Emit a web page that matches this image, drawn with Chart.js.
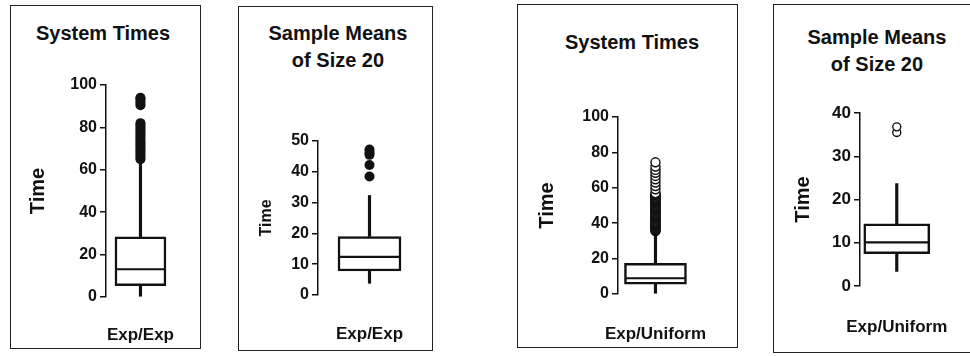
<!DOCTYPE html>
<html>
<head>
<meta charset="utf-8">
<script src="https://cdn.jsdelivr.net/npm/chart.js@4.4.1/dist/chart.umd.min.js"></script>
<style>
  body { margin: 0; width: 970px; height: 356px; overflow: hidden; background: #fff; position: relative; font-family: "Liberation Sans", Arial, sans-serif; }
  .panel { position: absolute; border: 1.5px solid #222; box-sizing: border-box; }
  canvas { position: absolute; }
  .title { position: absolute; width: 200px; font-weight: bold; font-size: 20px; line-height: 27px; text-align: center; color: #111; white-space: nowrap; }
</style>
</head>
<body>
<div class="panel" style="left:10px;top:5px;width:191px;height:344px"></div>
<div class="panel" style="left:238px;top:6px;width:195px;height:345px"></div>
<div class="panel" style="left:517px;top:4px;width:221px;height:344px"></div>
<div class="panel" style="left:773px;top:4px;width:200px;height:349px"></div>

<div class="title" style="left:3px;top:19.5px">System Times</div>
<div class="title" style="left:238px;top:19.5px">Sample Means<br>of Size 20</div>
<div class="title" style="left:532px;top:28.5px">System Times</div>
<div class="title" style="left:777px;top:23.5px">Sample Means<br>of Size 20</div>

<canvas id="c1" width="191" height="344" style="left:10px;top:5px"></canvas>
<canvas id="c2" width="195" height="345" style="left:238px;top:6px"></canvas>
<canvas id="c3" width="221" height="344" style="left:517px;top:4px"></canvas>
<canvas id="c4" width="200" height="349" style="left:773px;top:4px"></canvas>

<script>
// datos: [Q1, mediana, Q3], bigotes [min, max], atipicos
const labels1 = ['Exp/Exp'];
const box1 = [5.4, 13.1, 28.4];
const whisk1 = [0, 63];
const out1 = [65, 66, 67, 68, 69, 70, 71, 72, 73, 74, 75, 76, 77, 78, 79, 80, 81, 82, 90.5, 91.5, 92.5, 93.5, 94];
const ticks1 = [0, 20, 40, 60, 80, 100];

const labels2 = ['Exp/Exp'];
const box2 = [7.8, 12.4, 19.0];
const whisk2 = [3.8, 32.3];
const out2 = [38.5, 42.2, 45.5, 46.3, 47.2];
const ticks2 = [0, 10, 20, 30, 40, 50];

const labels3 = ['Exp/Uniform'];
const box3 = [5.5, 8.9, 17.3];
const whisk3 = [0, 35];
const out3 = [35.5, 36, 36.5, 37, 37.5, 38, 38.5, 39, 39.5, 40, 40.5, 41, 41.5, 42, 42.5, 43, 43.5, 44, 44.5, 45,
  45.5, 46, 46.5, 47, 47.5, 48, 48.5, 49, 49.5, 50, 50.5, 51, 51.5, 52, 52.5, 53, 53.5, 54, 54.5, 55, 55.5, 56, 56.5, 57,
  59.2, 61, 63, 64.8, 66.7, 68.5, 70.1, 72, 74.4];
const ticks3 = [0, 20, 40, 60, 80, 100];

const labels4 = ['Exp/Uniform'];
const box4 = [7.5, 10.1, 14.4];
const whisk4 = [3.4, 23.7];
const out4 = [35.5, 36.8];
const ticks4 = [0, 10, 20, 30, 40];

const FONT = '"Liberation Sans", Arial, sans-serif';
const INK = '#111';

// linea de la mediana dentro de la caja
const medianLine = {
  id: 'medianLine',
  afterDatasetsDraw(chart, args, opts) {
    const el = chart.getDatasetMeta(0).data[0];
    const y = chart.scales.y.getPixelForValue(opts.value);
    const ctx = chart.ctx;
    ctx.save();
    ctx.strokeStyle = INK;
    ctx.lineWidth = 2.2;
    ctx.beginPath();
    ctx.moveTo(el.x - el.width / 2 + 1, y);
    ctx.lineTo(el.x + el.width / 2 - 1, y);
    ctx.stroke();
    ctx.restore();
  }
};

function boxChart(id, labels, box, whisk, out, ticks, s) {
  const outPts = out.map(v => ({ x: labels[0], y: v }));
  return new Chart(document.getElementById(id), {
    type: 'bar',
    data: {
      labels: labels,
      datasets: [
        { data: [[box[0], box[2]]], backgroundColor: '#fff', borderColor: INK, borderWidth: 2.5,
          borderSkipped: false, barThickness: s.boxW, grouped: false },
        { data: [[whisk[0], box[0]]], backgroundColor: INK, borderWidth: 0, barThickness: 2.5, grouped: false },
        { data: [[box[2], whisk[1]]], backgroundColor: INK, borderWidth: 0, barThickness: 2.5, grouped: false },
        { type: 'line', data: outPts, showLine: false, clip: false,
          pointRadius: s.r, pointBorderWidth: s.open ? 1.4 : 0,
          pointBackgroundColor: s.open ? '#fff' : INK, pointBorderColor: INK }
      ]
    },
    options: {
      responsive: false,
      animation: false,
      devicePixelRatio: 1,
      layout: { padding: { left: 0, top: s.padTop, right: s.padRight, bottom: 0 } },
      plugins: {
        legend: { display: false },
        tooltip: { enabled: false },
        medianLine: { value: box[1] }
      },
      scales: {
        x: {
          grid: { display: false },
          border: { display: false },
          ticks: { color: INK, padding: s.xPad, font: { family: FONT, size: 17, weight: 'bold' } },
          afterFit(sc) { sc.height = s.xh; }
        },
        y: {
          min: ticks[0],
          max: ticks[ticks.length - 1],
          afterBuildTicks(sc) { sc.ticks = ticks.map(v => ({ value: v })); },
          grid: { display: true, drawOnChartArea: false, drawTicks: true, tickLength: 6, color: INK, lineWidth: 1.5 },
          border: { display: true, color: INK, width: 1.5 },
          ticks: { color: INK, padding: 3, font: { family: FONT, size: s.tickSize, weight: 'bold' } },
          title: { display: true, text: 'Time', color: INK, padding: { top: s.tPad, bottom: 0 },
                   font: { family: FONT, size: s.tSize, weight: 'bold' } },
          afterFit(sc) { sc.width = s.yw; }
        }
      }
    },
    plugins: [medianLine]
  });
}

boxChart('c1', labels1, box1, whisk1, out1, ticks1,
  { boxW: 51, r: 5, open: false, padTop: 80, padRight: 14, yw: 96, xh: 52, xPad: 20, tickSize: 16, tSize: 20, tPad: 16 });
boxChart('c2', labels2, box2, whisk2, out2, ticks2,
  { boxW: 63, r: 5, open: false, padTop: 135, padRight: 12, yw: 80, xh: 56, xPad: 21, tickSize: 16, tSize: 16, tPad: 19 });
boxChart('c3', labels3, box3, whisk3, out3, ticks3,
  { boxW: 62, r: 4.5, open: true, padTop: 113, padRight: 20, yw: 101, xh: 54, xPad: 22, tickSize: 16, tSize: 20, tPad: 18 });
boxChart('c4', labels4, box4, whisk4, out4, ticks4,
  { boxW: 66, r: 4, open: true, padTop: 109, padRight: 5, yw: 87, xh: 67, xPad: 23, tickSize: 17, tSize: 20, tPad: 18 });
</script>
</body>
</html>
